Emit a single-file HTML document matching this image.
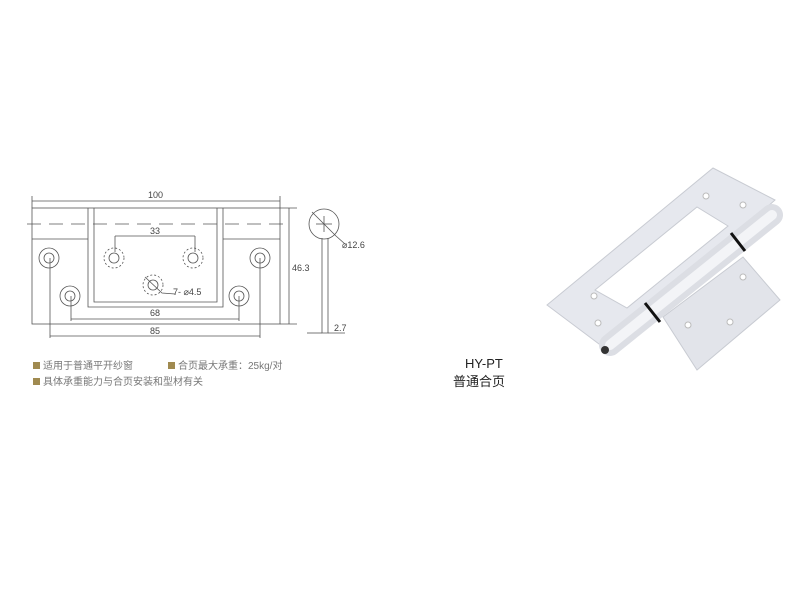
<!DOCTYPE html>
<html><head><meta charset="utf-8"><style>
html,body{margin:0;padding:0;background:#fff;width:800px;height:600px;overflow:hidden}
svg{display:block}
text{font-family:"Liberation Sans","Noto Sans CJK SC",sans-serif}
</style></head><body>
<svg width="800" height="600" viewBox="0 0 800 600">
<g stroke="#555" stroke-width="0.8" fill="none">
 <!-- outer -->
 <rect x="32" y="208" width="248" height="116"/>
 <line x1="32" y1="239" x2="88" y2="239"/><line x1="223" y1="239" x2="280" y2="239"/>
 <line x1="27" y1="224" x2="290" y2="224" stroke-dasharray="14,8"/>
 <path d="M88 208V307H223V208M94 208V302H217V208"/>
 <!-- dims -->
 <line x1="32" y1="201" x2="280" y2="201"/>
 <line x1="32" y1="196" x2="32" y2="208"/><line x1="280" y1="196" x2="280" y2="208"/>
 <line x1="115" y1="236" x2="195" y2="236"/>
 <line x1="115" y1="236" x2="115" y2="252"/><line x1="195" y1="236" x2="195" y2="252"/>
 <line x1="71" y1="319" x2="239" y2="319"/>
 <line x1="71" y1="296" x2="71" y2="321"/><line x1="239" y1="296" x2="239" y2="321"/>
 <line x1="50" y1="336" x2="260" y2="336"/>
 <line x1="50" y1="258" x2="50" y2="338"/><line x1="260" y1="258" x2="260" y2="338"/>
 <line x1="289" y1="208" x2="289" y2="324"/>
 <line x1="280" y1="208" x2="297" y2="208"/><line x1="280" y1="324" x2="297" y2="324"/>
 <!-- holes -->
 <circle cx="49" cy="258" r="10"/><circle cx="49" cy="258" r="5"/>
 <circle cx="260" cy="258" r="10"/><circle cx="260" cy="258" r="5"/>
 <circle cx="70" cy="296" r="10"/><circle cx="70" cy="296" r="5"/>
 <circle cx="239" cy="296" r="10"/><circle cx="239" cy="296" r="5"/>
 <circle cx="114" cy="258" r="10" stroke-dasharray="2,2"/><circle cx="114" cy="258" r="5"/>
 <circle cx="193" cy="258" r="10" stroke-dasharray="2,2"/><circle cx="193" cy="258" r="5"/>
 <circle cx="153" cy="285" r="10" stroke-dasharray="2,2"/><circle cx="153" cy="285" r="5"/>
 <path d="M145 277L162 293L175 294"/>
 <!-- side -->
 <circle cx="324" cy="224" r="15"/>
 <path d="M322 238V333H328V238"/>
 <path d="M312 212L336 236L345 244"/>
 <line x1="316" y1="224" x2="332" y2="224"/><line x1="324" y1="216" x2="324" y2="232"/>
 <line x1="307" y1="333" x2="322" y2="333"/><line x1="328" y1="333" x2="345" y2="333"/>
</g>
<g font-size="9" fill="#444">
 <text x="148" y="198">100</text>
 <text x="150" y="234">33</text>
 <text x="150" y="316">68</text>
 <text x="150" y="334">85</text>
 <text x="292" y="271">46.3</text>
 <text x="173" y="295">7- ⌀4.5</text>
 <text x="342" y="248">⌀12.6</text>
 <text x="334" y="331">2.7</text>
</g>
<g font-size="10" fill="#777">
 <rect x="33" y="362" width="7" height="7" fill="#a08a50"/>
 <text x="43" y="369">适用于普通平开纱窗</text>
 <rect x="168" y="362" width="7" height="7" fill="#a08a50"/>
 <text x="178" y="369">合页最大承重：25kg/对</text>
 <rect x="33" y="378" width="7" height="7" fill="#a08a50"/>
 <text x="43" y="385">具体承重能力与合页安装和型材有关</text>
</g>
<text x="465" y="368" font-size="13" fill="#222">HY-PT</text>
<text x="453" y="386" font-size="13" fill="#222">普通合页</text>
<!-- hinge photo -->
<g stroke="#c8cbd2" stroke-width="1">
 <polygon points="547,305 713,168 775,200 607,350" fill="#e6e8ee"/>
 <polygon points="595,290 697,207 728,226 627,308" fill="#fff"/>
 <polygon points="663,317 743,257 780,300 697,370" fill="#e2e4ea"/>
</g>
<g stroke="#dcdee4" stroke-width="22" stroke-linecap="round">
 <line x1="610" y1="345" x2="772" y2="215"/>
</g>
<line x1="610" y1="345" x2="772" y2="215" stroke="#f3f4f7" stroke-width="10" stroke-linecap="round"/>
<g stroke="#111" stroke-width="3">
 <line x1="645" y1="303" x2="660" y2="322"/>
 <line x1="731" y1="233" x2="745" y2="251"/>
</g>
<circle cx="605" cy="350" r="4" fill="#333"/>
<g fill="#fff" stroke="#bbb">
 <circle cx="594" cy="296" r="3"/><circle cx="598" cy="323" r="3"/>
 <circle cx="706" cy="196" r="3"/><circle cx="743" cy="205" r="3"/>
 <circle cx="743" cy="277" r="3"/><circle cx="688" cy="325" r="3"/><circle cx="730" cy="322" r="3"/>
</g>
</svg>
</body></html>
